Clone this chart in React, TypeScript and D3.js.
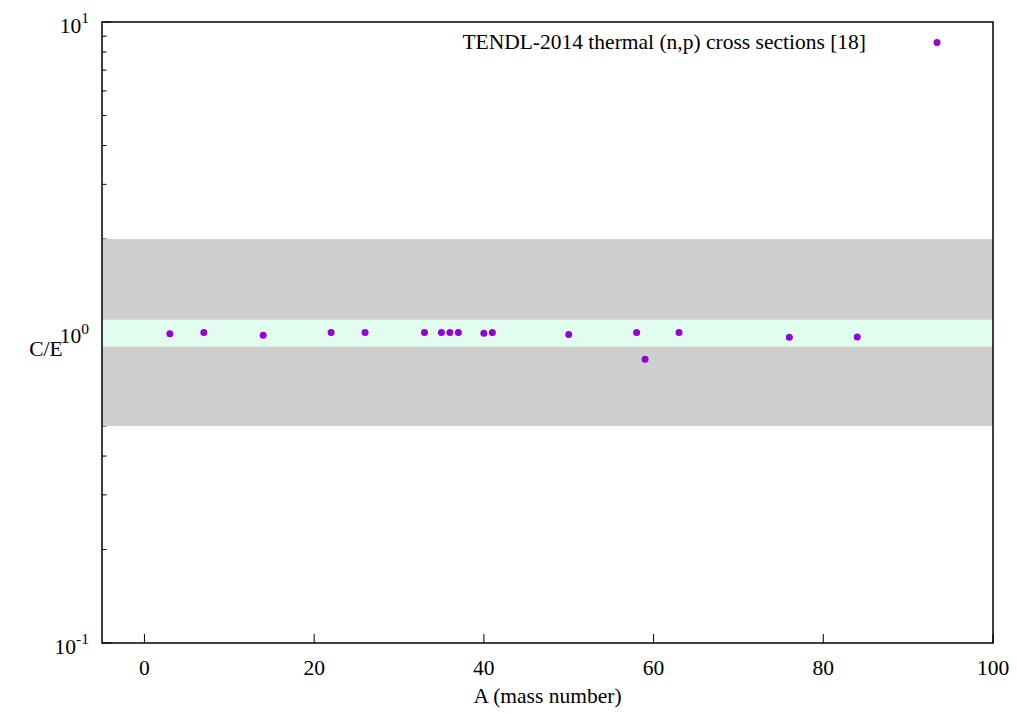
import React from "react";
import * as d3 from "d3";

// Mass numbers of the nuclides and the calculated/experimental ratio for each
const massNumbers = [3, 7, 14, 22, 26, 33, 35, 36, 37, 40, 41, 50, 58, 59, 63, 76, 84];
const ceRatios = [0.99, 1.0, 0.98, 1.0, 1.0, 1.0, 1.0, 1.0, 1.0, 0.995, 1.0, 0.985, 1.0, 0.82, 1.0, 0.965, 0.968];

const xTicks = [0, 20, 40, 60, 80, 100];
const yDecades = [-1, 0, 1];
const outerBand = [0.5, 2];
const innerBand = [0.9, 1.1];
const seriesLabel = "TENDL-2014 thermal (n,p) cross sections [18]";
const xTitle = "A (mass number)";
const yTitle = "C/E";

const W = 1017;
const H = 714;
const left = 102;
const right = 993;
const top = 22;
const bottom = 643;
const FONT = "'Liberation Serif', 'Times New Roman', serif";
const FS = 21.5;

export default function App() {
  const x = d3.scaleLinear().domain([-5, 100]).range([left, right]);
  const y = d3.scaleLog().domain([0.1, 10]).range([bottom, top]);

  const minorVals: number[] = [];
  [0.1, 1].forEach((base) => {
    for (let k = 2; k <= 9; k++) minorVals.push(base * k);
  });

  return (
    <svg
      width={W}
      height={H}
      style={{ position: "absolute", left: 0, top: 0, background: "#fff" }}
      fontFamily={FONT}
    >
      <rect x={0} y={0} width={W} height={H} fill="#fff" />

      {/* y ticks (inward) */}
      {yDecades.map((p) => (
        <line key={"M" + p} x1={left} x2={left + 9} y1={y(Math.pow(10, p))} y2={y(Math.pow(10, p))} stroke="#000" strokeWidth={1} />
      ))}
      {minorVals.map((v) => (
        <line key={"m" + v} x1={left} x2={left + 4.5} y1={y(v)} y2={y(v)} stroke="#000" strokeWidth={1} />
      ))}
      {/* x ticks (inward) */}
      {xTicks.map((t) => (
        <line key={"x" + t} x1={x(t)} x2={x(t)} y1={bottom} y2={bottom - 9} stroke="#000" strokeWidth={1} />
      ))}

      {/* tolerance bands */}
      <rect
        x={x(-5)}
        width={x(100) - x(-5)}
        y={y(outerBand[1])}
        height={y(outerBand[0]) - y(outerBand[1])}
        fill="#cfcfcf"
      />
      <rect
        x={x(-5)}
        width={x(100) - x(-5)}
        y={y(innerBand[1])}
        height={y(innerBand[0]) - y(innerBand[1])}
        fill="#e0fdf0"
      />

      {/* frame */}
      <rect x={left} y={top} width={right - left} height={bottom - top} fill="none" stroke="#000" strokeWidth={1.5} />

      {/* y tick labels */}
      {yDecades.map((p) => (
        <text key={"yl" + p} x={89} y={y(Math.pow(10, p)) + 10.5} textAnchor="end" fontSize={FS} fill="#000">
          10
          <tspan dy={-9.5} fontSize={15.5}>{p}</tspan>
        </text>
      ))}

      {/* x tick labels */}
      {xTicks.map((t) => (
        <text key={"xl" + t} x={x(t)} y={bottom + 32} textAnchor="middle" fontSize={FS} fill="#000">
          {t}
        </text>
      ))}

      {/* axis titles */}
      <text x={(left + right) / 2} y={703} textAnchor="middle" fontSize={FS} fill="#000">
        {xTitle}
      </text>
      <text x={46} y={356} textAnchor="middle" fontSize={FS} fill="#000">
        {yTitle}
      </text>

      {/* data */}
      {massNumbers.map((a, i) => (
        <circle key={"p" + i} cx={x(a)} cy={y(ceRatios[i])} r={3.5} fill="#9400d3" />
      ))}

      {/* legend */}
      <text x={866} y={49} textAnchor="end" fontSize={FS} fill="#000">
        {seriesLabel}
      </text>
      <circle cx={937} cy={42.5} r={3.5} fill="#9400d3" />
    </svg>
  );
}
